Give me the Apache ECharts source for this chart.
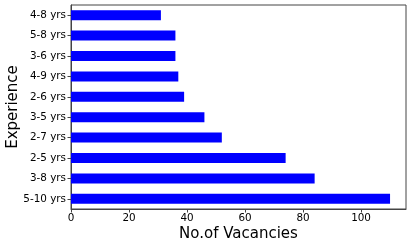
<!DOCTYPE html>
<html><head><meta charset="utf-8">
<script src="https://cdn.jsdelivr.net/npm/echarts@6/dist/echarts.min.js"></script>
<style>html,body{margin:0;padding:0;background:#fff}#c{width:411px;height:247px}</style>
</head><body><div id="c"></div>
<script>
const categories = ['5-10 yrs','3-8 yrs','2-5 yrs','2-7 yrs','3-5 yrs','2-6 yrs','4-9 yrs','3-6 yrs','5-8 yrs','4-8 yrs'];
const vacancies = [110, 84, 74, 52, 46, 39, 37, 36, 36, 31];
const xTicks = [0, 20, 40, 60, 80, 100];
const F = 'DejaVu Sans';
const chart = echarts.init(document.getElementById('c'), null, {renderer:'canvas'});
chart.setOption({
  animation:false,
  backgroundColor:'#fff',
  grid:{left:71,right:5,top:5,bottom:38,outerBoundsMode:'none',containLabel:false,show:true,borderColor:'#444',borderWidth:1,backgroundColor:'transparent'},
  xAxis:{type:'value',min:0,max:115.5,interval:20,
    name:'No.of Vacancies',nameLocation:'middle',nameGap:18,nameMoveOverlap:false,
    nameTextStyle:{fontFamily:F,fontSize:15,color:'#000',verticalAlign:'top'},
    axisLine:{show:true,lineStyle:{color:'#444',width:1}},
    axisTick:{show:true,length:3.5,lineStyle:{color:'#444'},customValues:xTicks},
    axisLabel:{fontFamily:F,fontSize:10.4,color:'#000',margin:4,customValues:xTicks},
    splitLine:{show:false}},
  yAxis:{type:'category',data:categories,
    name:'Experience',nameLocation:'middle',nameGap:50,nameRotate:90,nameMoveOverlap:false,
    nameTextStyle:{fontFamily:F,fontSize:15,color:'#000'},
    axisLine:{show:true,lineStyle:{color:'#444',width:1}},
    axisTick:{show:true,length:3.5,alignWithLabel:true,lineStyle:{color:'#444'}},
    axisLabel:{fontFamily:F,fontSize:10.4,color:'#000',margin:5},
    splitLine:{show:false}},
  series:[{type:'bar',data:vacancies,barWidth:10,itemStyle:{color:'#0000ff'}}]
});
</script></body></html>
